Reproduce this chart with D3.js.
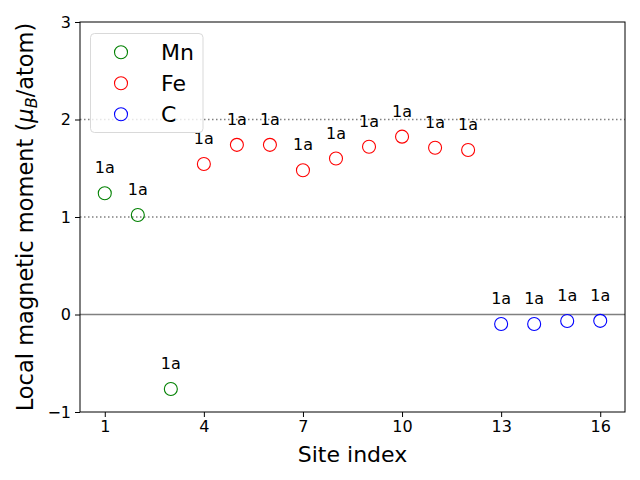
<!DOCTYPE html>
<html><head><meta charset="utf-8">
<script src="https://cdn.jsdelivr.net/npm/d3@7"></script>
<style>body{margin:0;background:#fff}svg{display:block;font-family:"DejaVu Sans",sans-serif}</style>
</head><body>
<svg id="c" width="640" height="480"></svg>
<script>
const mnSites = [1, 2, 3];
const mnValues = [1.243, 1.02, -0.764];
const feSites = [4, 5, 6, 7, 8, 9, 10, 11, 12];
const feValues = [1.544, 1.74, 1.74, 1.48, 1.60, 1.72, 1.824, 1.711, 1.687];
const cSites = [13, 14, 15, 16];
const cValues = [-0.097, -0.097, -0.067, -0.065];
const siteLabel = "1a";
const xTicks = [1, 4, 7, 10, 13, 16];
const yTicks = [-1, 0, 1, 2, 3];
const refLines = [1, 2];

const series = [
  {name: "Mn", color: "#008000", sites: mnSites, values: mnValues},
  {name: "Fe", color: "#ff0000", sites: feSites, values: feValues},
  {name: "C", color: "#0000ff", sites: cSites, values: cValues}
];

const svg = d3.select("#c");
const L = 80, R = 625, T = 22, B = 412;
const x = d3.scaleLinear().domain([0.25, 16.75]).range([L, R]);
const y = d3.scaleLinear().domain([-1, 3]).range([B, T]);

// reference lines
svg.selectAll("line.ref").data(refLines).join("line")
  .attr("x1", L).attr("x2", R).attr("y1", d => y(d)).attr("y2", d => y(d))
  .attr("stroke", "#808080").attr("stroke-width", 1.5).attr("stroke-dasharray", "1.5,2.5");
svg.append("line").attr("x1", L).attr("x2", R).attr("y1", y(0)).attr("y2", y(0))
  .attr("stroke", "#808080").attr("stroke-width", 1.5);

// points and labels
series.forEach(s => {
  const pts = s.sites.map((site, i) => ({site, v: s.values[i]}));
  svg.append("g").selectAll("circle").data(pts).join("circle")
    .attr("cx", d => x(d.site)).attr("cy", d => y(d.v)).attr("r", 6.5)
    .attr("fill", "none").attr("stroke", s.color).attr("stroke-width", 1.1);
  svg.append("g").selectAll("text").data(pts).join("text")
    .attr("x", d => x(d.site)).attr("y", d => y(d.v) - 20)
    .attr("text-anchor", "middle").attr("font-size", 16).attr("fill", "#000")
    .text(siteLabel);
});

// axes
const fmt = d => d < 0 ? "\u2212" + Math.abs(d) : String(d);
const gx = svg.append("g").attr("transform", `translate(0,${B})`)
  .call(d3.axisBottom(x).tickValues(xTicks).tickSize(5).tickPadding(4).tickFormat(fmt));
const gy = svg.append("g").attr("transform", `translate(${L},0)`)
  .call(d3.axisLeft(y).tickValues(yTicks).tickSize(5).tickPadding(4).tickFormat(fmt));
[gx, gy].forEach(g => {
  g.select(".domain").remove();
  g.selectAll("text").attr("font-size", 16).attr("font-family", "DejaVu Sans").attr("fill", "#000");
  g.selectAll("line").attr("stroke", "#000").attr("stroke-width", 1);
});
svg.append("rect").attr("x", L).attr("y", T).attr("width", R - L).attr("height", B - T)
  .attr("fill", "none").attr("stroke", "#000").attr("stroke-width", 1);

// axis labels
svg.append("text").attr("x", (L + R) / 2).attr("y", 462).attr("text-anchor", "middle")
  .attr("font-size", 22).text("Site index");
const yl = svg.append("text").attr("transform", `translate(33,${(T + B) / 2}) rotate(-90)`)
  .attr("text-anchor", "middle").attr("font-size", 22.5);
yl.append("tspan").text("Local magnetic moment (");
yl.append("tspan").attr("font-style", "italic").text("\u03bc");
yl.append("tspan").attr("font-style", "italic").attr("font-size", 16).attr("dy", 4).text("B");
yl.append("tspan").attr("dy", -4).text("/atom)");

// legend
const lg = svg.append("g");
lg.append("rect").attr("x", 90.5).attr("y", 33.5).attr("width", 112.5).attr("height", 99)
  .attr("rx", 4).attr("fill", "#fff").attr("fill-opacity", 0.8).attr("stroke", "#d9d9d9").attr("stroke-width", 1);
series.forEach((s, i) => {
  const cy = 52.3 + i * 31;
  lg.append("circle").attr("cx", 121).attr("cy", cy).attr("r", 6.5)
    .attr("fill", "none").attr("stroke", s.color).attr("stroke-width", 1.1);
  lg.append("text").attr("x", 161).attr("y", cy).attr("dy", "0.36em")
    .attr("font-size", 22).text(s.name);
});
</script>
</body></html>
